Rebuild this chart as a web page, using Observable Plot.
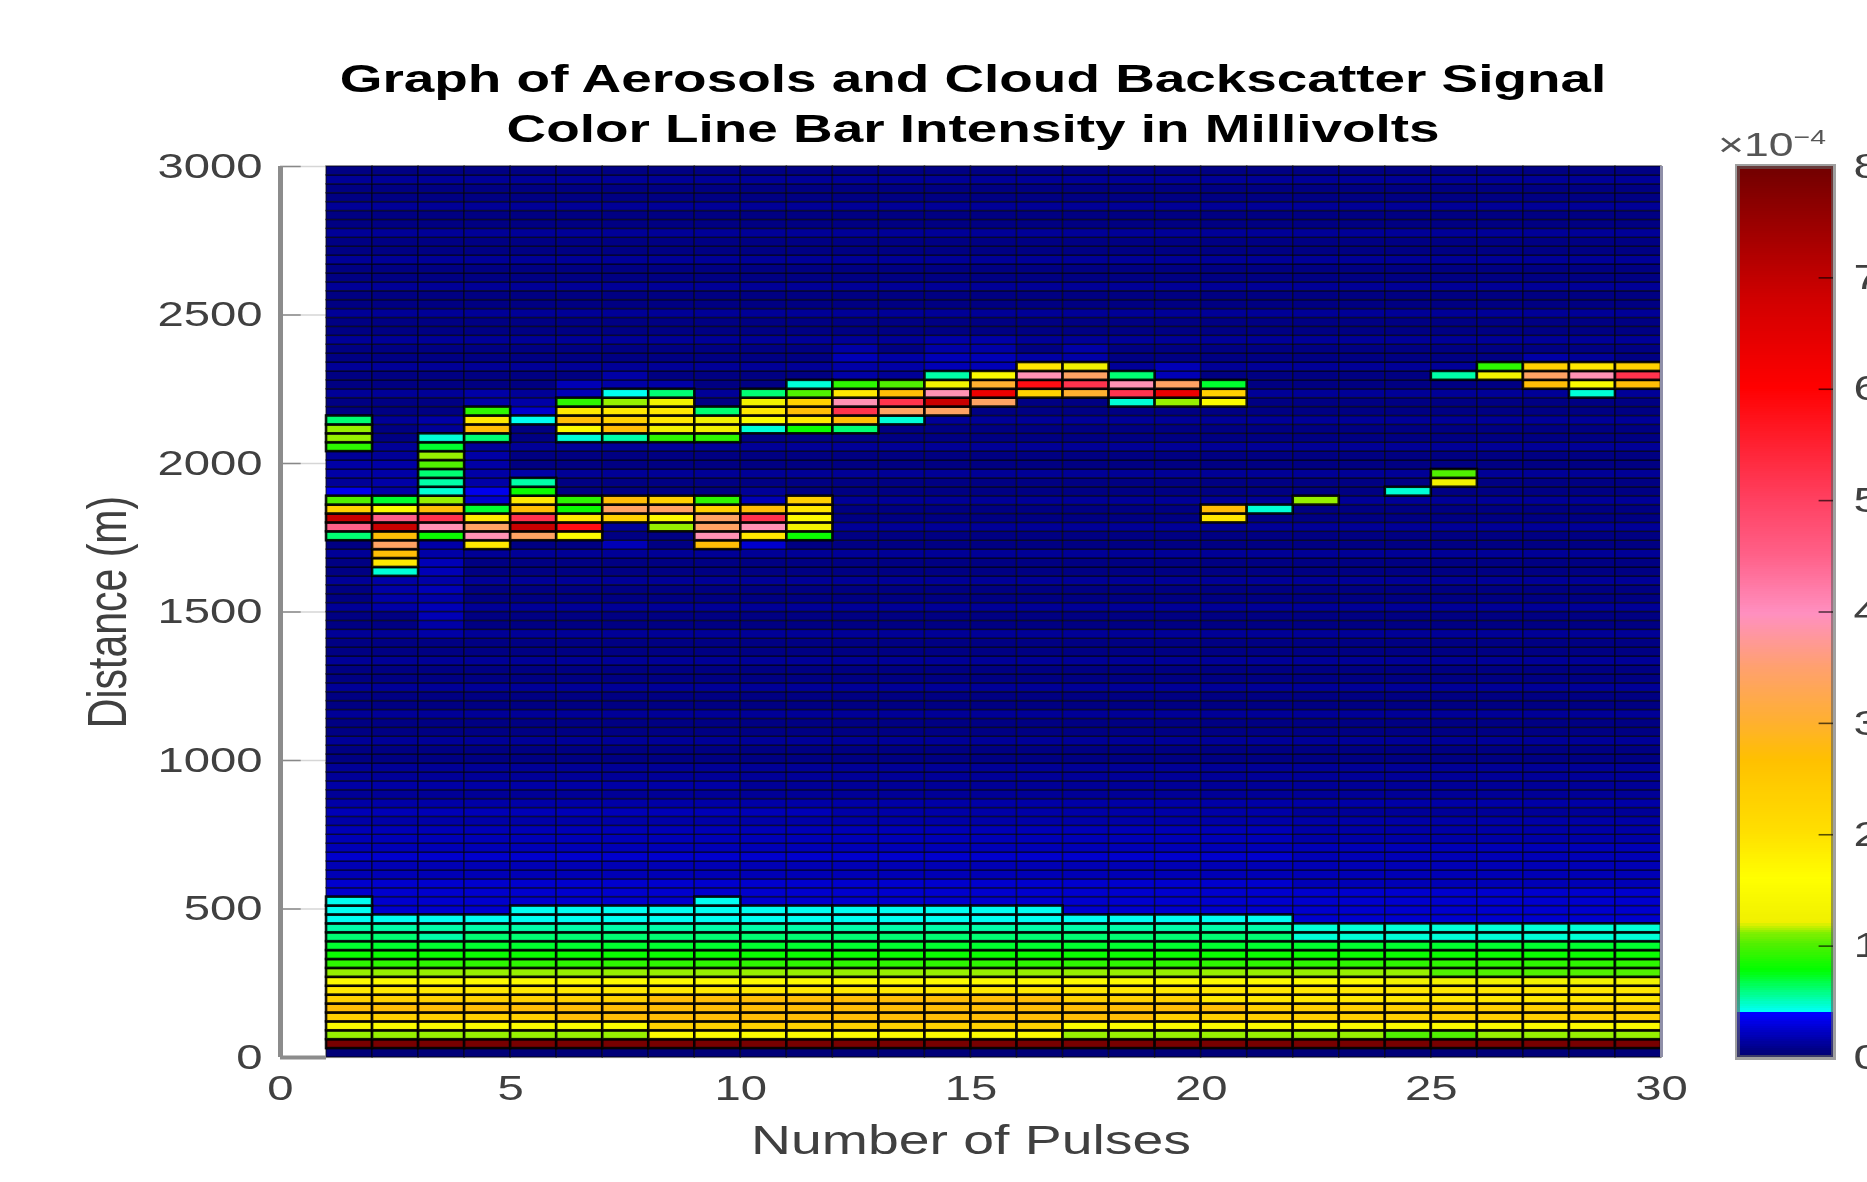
<!DOCTYPE html>
<html>
<head>
<meta charset="utf-8">
<title>Graph of Aerosols and Cloud Backscatter Signal</title>
<script src="https://cdn.jsdelivr.net/npm/d3@7"></script>
<script src="https://cdn.jsdelivr.net/npm/@observablehq/plot@0.6"></script>
<style>
  html, body { margin: 0; padding: 0; width: 1867px; height: 1182px; overflow: hidden; background: #fff; }
  body { position: relative; font-family: "Liberation Sans", Arial, sans-serif; }
  #chartTitle { position: absolute; left: 273px; top: 54px; width: 1400px; margin: 0; text-align: center;
    font-size: 38px; line-height: 50px; font-weight: 700; color: #000; transform: scaleX(1.444); filter: blur(0.5px); }
  #main { position: absolute; left: 0; top: 150px; width: 1867px; }
  #bar { position: absolute; left: 1700px; top: 150px; width: 200px; }
  #main svg, #bar svg { max-width: none; }
  #exponent { position: absolute; left: 1718px; top: 125px; color: #555; font-size: 33px; line-height: 40px;
    transform-origin: left center; transform: scaleX(1.35); white-space: nowrap; filter: blur(0.5px); }
  #exponent sup { font-size: 21px; line-height: 0; }
</style>
</head>
<body>
<h1 id="chartTitle">Graph of Aerosols and Cloud Backscatter Signal<br>Color Line Bar Intensity in Millivolts</h1>
<div id="main"></div>
<div id="bar"></div>
<div id="exponent">&#215;10<sup>&#8722;4</sup></div>
<script>
// level keys and the value each one stands for, in units of 1e-4
const levelKeys = "abcdefghijklmnopqrstuvwxyzABCDE".split("");
const levelValues = [.02,.05,.10,.14,.18,.24,.32,.41,.45,.52,.60,.70,.80,.90,1.0,1.12,1.25,1.5,1.9,2.3,2.7,3.0,3.4,3.9,4.5,5.2,5.8,6.3,6.9,7.5,7.9];

// 30 m range gates, pulses 1..29 across, gate 0 first
const gateSize = 30;
const pulseCount = 29;
const gateCount = 100;

const surfaceRows = [
  "aaaaaaaaaaaaaaaaaaaaaaaaaaaaa",
  "EEEEEEEEEEEEEEEEEEEEEEEEEEEEE",
  "ppppppprrrrrrrrrpppppppoopppp",
  "rrrrrrrtttttttttrrrrrrrrrrrrr",
  "tttttuuuuuuuuuuuuuttttttttttt",
  "uuuuuuuuuuuuuuuuuuuuttttttttt",
  "tttttttuuuuuuuuutttssssssssss",
  "sssssssssssssssssssssssssssss",
  "rrrrrrrrrrrrrrrrrrrrrrrqqqqqq",
  "ppppppppppppppppppppppppooooo",
  "nnnnnnnnnnnnnnnnnnnnnnnnnnnnn",
  "mmmmmmmmmmmmmmmmmmmmmmmmmmmmm",
  "lllllllllllllllllllllllllllll",
  "kkjkkkkkkkkkkkkkkkkkkkkiiiiii".slice(0,21) + "iiiiiiii",
  "jjjjjjjjjjjjjjjjjjjjjiiiiiiii",
  "hhhhhhhhhhhhhhhhhhhhhffffffff",
  "hfffhhhhhhhhhhhhfffffffffffff",
  "hfffffffhffffffffffffffffffff",
  "fffffffffffffffffffffffffffff",
  "fffffffffffffffffffffeeeeeeee",
  "eeeeeeeeeeeeeeeeeeeeeeeeeeeee",
  "eeeeeeeeeeeeeeeeeeeeeeeeeeeee",
  "fffffffffffffffffffffeeeeeeee",
  "eeeeeeeeeeeeeeeeeeeeeeeeeeeee",
  "eeeeeeeeeeeeeeeeeeeeedddddddd",
  "eeeeeeeeeeeeeeeeeeeeedddddddd",
  "ddddddddddddddddddddddddddddd",
  "eeeeeeeeeeeddddddddddcccccccc",
  "ddddddddddddddddddddddddddddd",
  "ccccccccccccccccccccccccccccc",
  "dddddddddcccccccccccccccccccc",
  "ccccccccccccccccccccccccccccc"
];

// one level per gate from gate 32 up to gate 99
const upperBackground = "cbbcbbcbbcbbcbbcbbcbbcbbcbbcbbcbbcbbcbbcbbcbbcbbcbbcbbcbbcbbcbbcbbcb";

// [pulse, first gate, levels going up] for the cloud layers and the haze around them
const lowerCloud = [
  [1,58,"kyCtog"], [2,54,"isuwuCyrl"], [3,58,"mxzupijkopli"], [4,57,"sxwslfg"], [5,58,"wCzusmj"],
  [6,58,"rAsmn"], [7,60,"twu"], [8,59,"prwt"], [9,57,"uxwwtn"], [10,58,"sxzu"], [11,58,"mqrst"],
  [20,60,"su"], [21,61,"i"], [22,62,"p"], [24,63,"i"], [25,64,"qo"]
];
const upperCloud = [
  [1,68,"nppk"], [4,69,"kusn"], [5,71,"hf"], [6,69,"irusn"], [7,69,"jutsph"], [8,69,"nqssqk"],
  [9,69,"nqqk"], [10,70,"irsqk"], [11,70,"msutoi"], [12,70,"kuzxsn"], [13,71,"iwzuo"], [14,72,"wCxqj"],
  [15,73,"wBvr"], [16,74,"tAxs"], [17,74,"vzwq"], [18,73,"izxk"], [19,73,"pBw"], [20,73,"rtl"],
  [25,76,"j"], [26,76,"qn"], [27,75,"uwt"], [28,74,"irxs"], [29,75,"uzt"]
];
const hazePatches = [
  [1,64,"cddc"], [2,50,"dddd"], [2,63,"ddddc"], [3,47,"ddeededeedd"], [3,70,"cd"], [4,64,"dddd"], [4,73,"dd"],
  [5,65,"d"], [5,73,"d"], [6,74,"ee"], [7,57,"e"], [7,75,"dd"], [8,75,"d"], [10,57,"f"], [10,62,"ec"],
  [12,76,"dded"], [13,76,"cdd"], [14,77,"eedd"], [15,77,"eedd"], [16,78,"d"], [17,78,"dd"], [19,76,"ee"],
  [27,78,"d"], [28,78,"c"]
];

const pulseTicks = [0,5,10,15,20,25,30];
const distanceTicks = [0,500,1000,1500,2000,2500,3000];
const colorTicks = [0,1,2,3,4,5,6,7,8];

// colour bar stops (value in 1e-4, colour)
const colorStops = [0,.37,.38,.39,.77,1.0,1.1,1.2,1.6,2,2.66,3,3.5,3.97,4.5,5,5.5,6,6.8,7.4,8];
const colorRange = ["#000070","#0000ff","#0000ff","#00ffff","#00ff00","#50f000","#80f000","#f0f000","#ffff00","#ffe000","#ffc000","#ffb030","#ffa070","#ff90c0","#ff6088","#ff4060","#ff2030","#ff0000","#d00000","#a00000","#700000"];
const colorScale = {type: "linear", domain: colorStops, range: colorRange};

const levelOf = Object.fromEntries(levelKeys.map((k, i) => [k, levelValues[i]]));
const grid = d3.range(gateCount).map(g => {
  if (g < surfaceRows.length) return surfaceRows[g].split("");
  return d3.range(pulseCount).map(() => upperBackground[g - surfaceRows.length]);
});
for (const [pulse, first, levels] of [...hazePatches, ...lowerCloud, ...upperCloud]) {
  levels.split("").forEach((k, i) => { grid[first + i][pulse - 1] = k; });
}
const cells = [];
grid.forEach((row, g) => row.forEach((k, p) => cells.push({
  x1: p + 1, x2: p + 2, y1: g * gateSize, y2: (g + 1) * gateSize, value: levelOf[k]
})));
const faintCells = cells.filter(d => d.value < 0.38);
const brightCells = cells.filter(d => d.value >= 0.38);

const font = '"Liberation Sans", Arial, sans-serif';
const stretch = 1.35;
function stretchText(svg, selector, size) {
  d3.select(svg).selectAll(selector).each(function () {
    const t = this.getAttribute("transform") || "";
    this.setAttribute("transform", t.replace(/^(translate\([^)]*\))?/, (m) => m + ` scale(${stretch},1)`));
    if (size) this.style.fontSize = size;
  });
}

const main = Plot.plot({
  width: 1867, height: 1032,
  marginLeft: 280, marginRight: 206, marginTop: 16, marginBottom: 125,
  style: {fontFamily: font, fontSize: "35px", color: "#404040", background: "transparent", overflow: "visible"},
  x: {domain: [0, 30]},
  y: {domain: [0, 3000]},
  color: colorScale,
  marks: [
    Plot.ruleY(distanceTicks, {stroke: "#999", strokeWidth: 1.5, strokeOpacity: 0.4}),
    Plot.ruleY(distanceTicks, {x1: 0, x2: 0.45, stroke: "#555", strokeWidth: 1.5, strokeOpacity: 0.6}),
    Plot.rect(faintCells, {x1: "x1", x2: "x2", y1: "y1", y2: "y2", fill: "value", stroke: "#000", strokeWidth: 1.5, strokeOpacity: 0.55}),
    Plot.rect(brightCells, {x1: "x1", x2: "x2", y1: "y1", y2: "y2", fill: "value", stroke: "#000", strokeWidth: 2.6, strokeOpacity: 0.9}),
    Plot.ruleX([0], {stroke: "#8c8c8c", strokeWidth: 5}),
    Plot.ruleX([30], {stroke: "#8f8fa8", strokeWidth: 3}),
    Plot.ruleY([0], {stroke: "#8c8c8c", strokeWidth: 4, x1: 0, x2: 1}),
    Plot.axisX({ticks: pulseTicks, tickSize: 0, tickPadding: 18, label: "Number of Pulses", labelAnchor: "center", labelArrow: "none", labelOffset: 96, stroke: "none", tickFormat: d => String(d)}),
    Plot.axisY({ticks: distanceTicks, tickSize: 0, tickPadding: 18, label: "Distance (m)", labelAnchor: "center", labelArrow: "none", labelOffset: 194, stroke: "none", tickFormat: d => String(d)})
  ]
});
stretchText(main, 'g[aria-label="x-axis tick label"] text');
stretchText(main, 'g[aria-label="y-axis tick label"] text');
stretchText(main, 'g[aria-label="x-axis label"] text', "41px");
stretchText(main, 'g[aria-label="y-axis label"] text', "41px");
main.style.filter = "blur(0.6px)";
document.getElementById("main").append(main);

const bar = Plot.plot({
  width: 200, height: 1032,
  marginLeft: 37, marginRight: 67, marginTop: 16, marginBottom: 125,
  style: {fontFamily: font, fontSize: "35px", color: "#404040", background: "transparent", overflow: "visible"},
  x: {domain: [0, 1], axis: null},
  y: {domain: [0, 8]},
  color: colorScale,
  marks: [
    Plot.rect(d3.range(0, 8, 0.02), {x1: 0, x2: 1, y1: d => d, y2: d => d + 0.02, fill: d => d, shapeRendering: "crispEdges"}),
    Plot.frame({stroke: "#606060", strokeWidth: 5, strokeOpacity: 0.6}),
    Plot.axisY({anchor: "right", ticks: colorTicks, tickSize: 0, tickPadding: 20, label: null, stroke: "none", tickFormat: d => String(d)}),
    Plot.ruleY(colorTicks.slice(1, 8), {x1: 0.85, x2: 1, stroke: "#000", strokeOpacity: 0.65, strokeWidth: 1.6})
  ]
});
stretchText(bar, 'g[aria-label="y-axis tick label"] text');
bar.style.filter = "blur(0.6px)";
document.getElementById("bar").append(bar);
</script>
</body>
</html>
